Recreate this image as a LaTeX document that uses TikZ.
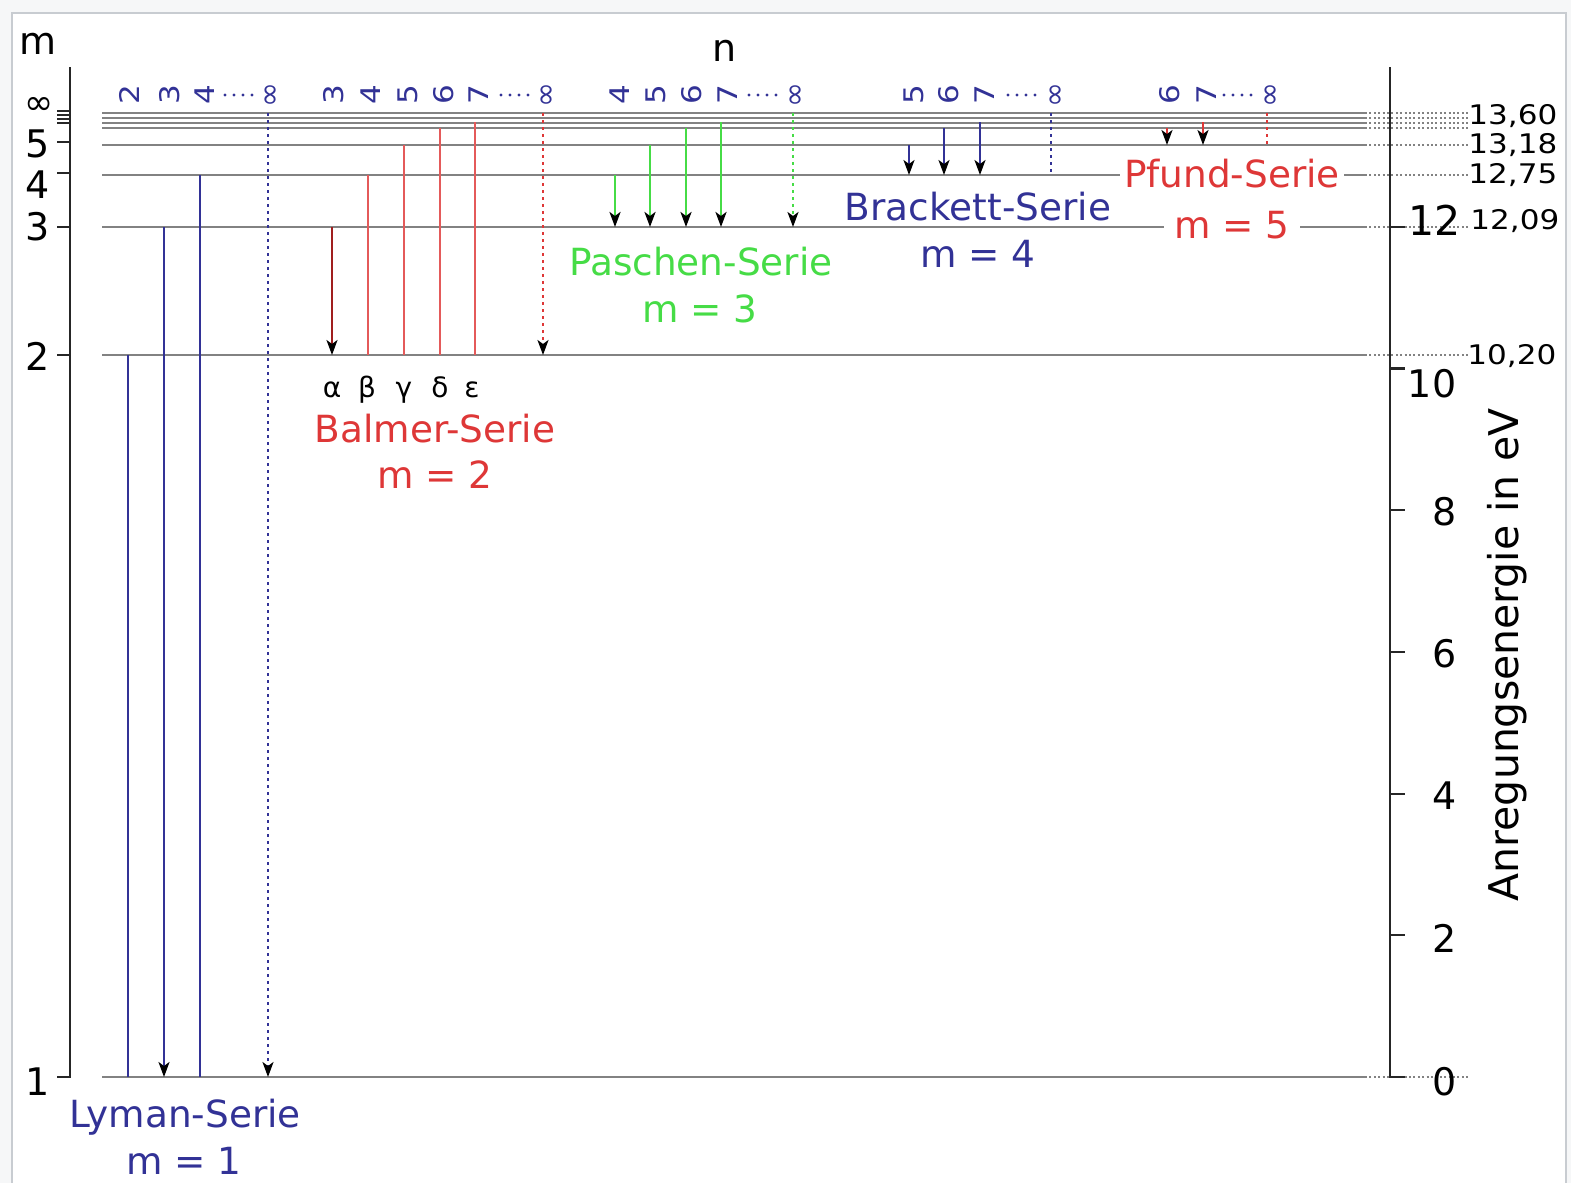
\documentclass[tikz,border=0pt]{standalone}
\usepackage{fontspec}
\setmainfont{DejaVu Sans}
\newfontfamily\stretchfont[FakeStretch=1.15]{DejaVu Sans}
\usetikzlibrary{arrows.meta}
\definecolor{lblue}{RGB}{50,50,150}
\definecolor{lred}{RGB}{222,55,55}
\definecolor{lpink}{RGB}{228,90,90}
\definecolor{ldred}{RGB}{160,30,30}
\definecolor{lgreen}{RGB}{70,220,70}
\definecolor{lvgray}{RGB}{130,130,130}
\definecolor{framegray}{RGB}{200,204,209}
\definecolor{bggray}{RGB}{246,247,248}
\begin{document}
\begin{tikzpicture}[x=0.5pt,y=-0.5pt,
  lvline/.style={draw=lvgray,line width=1.15pt},
  extline/.style={draw=lvgray,line width=0.75pt,dash pattern=on 1pt off 1.2pt},
  axisline/.style={draw=black!85,line width=1.4pt},
  tickline/.style={draw=black!85,line width=1.1pt},
  arrowtip/.style={-{Stealth[color=black,length=7.5pt,width=5.5pt,inset=2pt]}},
  dotline/.style={dash pattern=on 1.5pt off 2pt},
  trline/.style={line width=1.1pt},
  lyN/.style={trline,draw=lblue},
  lyA/.style={trline,draw=lblue,arrowtip},
  lyD/.style={trline,draw=lblue,dotline,arrowtip},
  baA/.style={trline,draw=ldred,arrowtip},
  baN/.style={trline,draw=lpink,line width=1.3pt},
  baD/.style={trline,draw=lred,dotline,arrowtip},
  paA/.style={trline,draw=lgreen,line width=1.3pt,arrowtip},
  paD/.style={trline,draw=lgreen,dotline,arrowtip},
  brA/.style={trline,draw=lblue,arrowtip},
  brD/.style={trline,draw=lblue,dotline},
  pfA/.style={trline,draw=lred,arrowtip},
  pfD/.style={trline,draw=lred,dotline},
  nlab/.style={rotate=90,text=lblue,font=\stretchfont\fontsize{13.5}{14}\selectfont,inner sep=0pt},
  ninf/.style={nlab,font=\fontsize{15}{16}\selectfont},
  ndots/.style={draw=lblue,line width=1.6pt,line cap=round,dash pattern=on 0pt off 4.5pt},
  ticklbl/.style={font=\fontsize{19}{20}\selectfont,inner sep=0pt},
  sertxt/.style={font=\fontsize{18.7}{20}\selectfont,inner sep=0pt,anchor=base},
  greektxt/.style={font=\fontsize{14}{15}\selectfont,inner sep=0pt,anchor=base},
  valtxt/.style={font=\stretchfont\fontsize{13.5}{14}\selectfont,inner sep=0pt,anchor=west},
  titletxt/.style={font=\fontsize{20.5}{22}\selectfont,inner sep=0pt,rotate=90},
]
\useasboundingbox (0,0) rectangle (1571,1183);
\fill[bggray] (0,0) rectangle (1571,1183);
\filldraw[fill=white,draw=framegray,line width=0.8pt] (12,13) rectangle (1566,1195);

% energy levels
\foreach \nm/\y in {inf/113,h/118,g/123,f/128,e/145,d/175,c/227,b/355,a/1077} {
  \coordinate (lv\nm-l) at (102,\y);
  \coordinate (lv\nm-r) at (1365,\y);
  \coordinate (lv\nm-e) at (1468,\y);
  \draw[lvline] (lv\nm-l) -- (lv\nm-r);
  \draw[extline] (lv\nm-r) -- (lv\nm-e);
}

% left axis
\coordinate (lax-top) at (70,67);
\coordinate (lax-bot) at (70,1077);
\coordinate (lax-hook) at (57,1077);
\draw[axisline] (lax-top) -- (lax-bot) -- (lax-hook);
\foreach \y in {111,115,119,123} \draw[tickline,line width=0.9pt] (57,\y) -- (70,\y);
\foreach \y in {142,173,227,355} \draw[tickline] (57,\y) -- (70,\y);
\node[ticklbl] (m-lab) at (38,44) {m};
\node[ticklbl,font=\fontsize{17.5}{18}\selectfont] (lab-inf) at (39,106) {∞};
\node[ticklbl] (lab-5) at (38,144) {5};
\node[ticklbl] (lab-4) at (38,185) {4};
\node[ticklbl] (lab-3) at (38,227) {3};
\node[ticklbl] (lab-2) at (38,356) {2};
\node[ticklbl] (lab-1) at (38,1082) {1};
\node[ticklbl] (n-lab) at (725,51) {n};

% right axis
\coordinate (rax-top) at (1390,67);
\coordinate (rax-bot) at (1390,1077);
\coordinate (rax-hook) at (1405,1077);
\draw[axisline] (rax-top) -- (rax-bot) -- (rax-hook);
\foreach \e in {2,4,6,8,10,12} \draw[tickline] (1390,{1077-70.85*\e}) -- (1405,{1077-70.85*\e});
\node[ticklbl,font=\fontsize{20.5}{22}\selectfont] (e12) at (1435,220) {12};
\node[ticklbl] (e10) at (1432,384) {10};
\node[ticklbl] (e8) at (1445,512) {8};
\node[ticklbl] (e6) at (1445,654) {6};
\node[ticklbl] (e4) at (1445,796) {4};
\node[ticklbl] (e2) at (1445,938) {2};
\node[ticklbl] (e0) at (1445,1082) {0};
\node[titletxt] (etitle) at (1507,655) {Anregungsenergie in eV};
\node[valtxt] (v1360) at (1468,116) {13,60};
\node[valtxt] (v1318) at (1468,145) {13,18};
\node[valtxt] (v1275) at (1468,175) {12,75};
\node[valtxt] (v1209) at (1470,221) {12,09};
\node[valtxt] (v1020) at (1467,356) {10,20};

% transitions
\foreach \nm/\x/\ya/\yb/\sty in {
  ly2/128/355/1077/lyN, ly3/164/227/1077/lyA, ly4/200/175/1077/lyN, lyi/268/113/1077/lyD,
  ba3/332/227/355/baA, ba4/368/175/355/baN, ba5/404/145/355/baN, ba6/440/128/355/baN, ba7/475/122/355/baN, bai/543/113/355/baD,
  pa4/615/175/227/paA, pa5/650/145/227/paA, pa6/686/128/227/paA, pa7/721/122/227/paA, pai/793/113/227/paD,
  br5/909/145/175/brA, br6/944/128/175/brA, br7/980/122/175/brA, bri/1051/113/175/brD,
  pf6/1167/128/145/pfA, pf7/1203/122/145/pfA, pfi/1267/113/145/pfD} {
  \coordinate (\nm-a) at (\x,\ya);
  \coordinate (\nm-b) at (\x,\yb);
  \draw[\sty] (\nm-a) -- (\nm-b);
}

% n labels
\node[nlab] (nly2) at (129,95) {2};
\node[nlab] (nly3) at (170,95) {3};
\node[nlab] (nly4) at (205,95) {4};
\node[ninf] (nlyi) at (272,95) {∞};
\node[nlab] (nba3) at (334,95) {3};
\node[nlab] (nba4) at (371,95) {4};
\node[nlab] (nba5) at (408,95) {5};
\node[nlab] (nba6) at (444,95) {6};
\node[nlab] (nba7) at (479,95) {7};
\node[ninf] (nbai) at (548,95) {∞};
\node[nlab] (npa4) at (620,95) {4};
\node[nlab] (npa5) at (656,95) {5};
\node[nlab] (npa6) at (692,95) {6};
\node[nlab] (npa7) at (728,95) {7};
\node[ninf] (npai) at (797,95) {∞};
\node[nlab] (nbr5) at (914,95) {5};
\node[nlab] (nbr6) at (949,95) {6};
\node[nlab] (nbr7) at (985,95) {7};
\node[ninf] (nbri) at (1057,95) {∞};
\node[nlab] (npf6) at (1170,95) {6};
\node[nlab] (npf7) at (1207,95) {7};
\node[ninf] (npfi) at (1272,95) {∞};
\draw[ndots] (225,95) -- (254,95);
\draw[ndots] (501,95) -- (530,95);
\draw[ndots] (749,95) -- (778,95);
\draw[ndots] (1008,95) -- (1037,95);
\draw[ndots] (1224,95) -- (1253,95);

% series labels
\node[greektxt] (ga) at (332,397) {α};
\node[greektxt] (gb) at (367,397) {β};
\node[greektxt] (gc) at (404,397) {γ};
\node[greektxt] (gd) at (440,397) {δ};
\node[greektxt] (ge) at (472,397) {ε};
\node[sertxt,text=lblue] (lyman) at (185,1127) {Lyman-Serie};
\node[sertxt,text=lblue] (lymanm) at (184,1174) {m = 1};
\node[sertxt,text=lred] (balmer) at (435,442) {Balmer-Serie};
\node[sertxt,text=lred] (balmerm) at (435,488) {m = 2};
\node[sertxt,text=lgreen] (paschen) at (701,275) {Paschen-Serie};
\node[sertxt,text=lgreen] (paschenm) at (700,322) {m = 3};
\node[sertxt,text=lblue] (brackett) at (978,220) {Brackett-Serie};
\node[sertxt,text=lblue] (brackettm) at (978,267) {m = 4};
\node[sertxt,text=lred,fill=white,inner xsep=2pt,inner ysep=1pt] (pfund) at (1232,187) {Pfund-Serie};
\node[sertxt,text=lred,fill=white,inner xsep=5pt,inner ysep=1pt] (pfundm) at (1232,238) {m = 5};
\end{tikzpicture}
\end{document}
